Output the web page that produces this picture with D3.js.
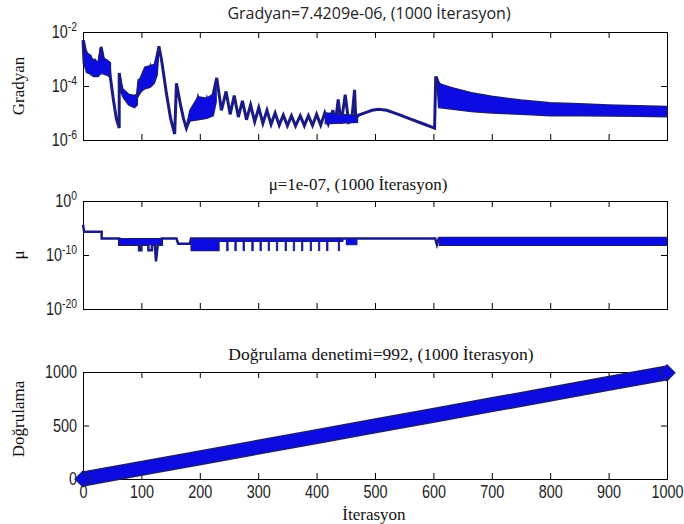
<!DOCTYPE html>
<html>
<head>
<meta charset="utf-8">
<script src="https://cdn.jsdelivr.net/npm/d3@7"></script>
<style>
body { margin: 0; background: #fff; }
svg { display: block; }
.tick text { font-family: "Liberation Sans", Arial, sans-serif; font-size: 18px; fill: #222; }
.tick line { stroke: #000; }
.serif { font-family: "Liberation Serif", "Times New Roman", serif; font-size: 17px; fill: #111; }
.sans { font-family: "Open Sans", "Noto Sans", sans-serif; font-size: 16px; fill: #222; }
</style>
</head>
<body>
<svg id="chart" width="684" height="524"></svg>
<script>
// x ticks shared by all three panels
var xTicks = [0, 100, 200, 300, 400, 500, 600, 700, 800, 900, 1000];

// gradient trace, [iteration, log10(gradient)]
var gradTrace = [
  [0, -2.3], [2, -3.2], [5, -2.7], [8, -3.5], [12, -2.85], [16, -3.6], [20, -3.0], [25, -3.65], [28, -3.1],
  [31, -2.55], [35, -3.0], [40, -3.6], [44, -3.1], [47, -3.7], [52, -4.5], [57, -5.2], [62, -5.56],
  [62, -3.52], [66, -4.2], [72, -4.45], [80, -4.65], [88, -4.7], [93, -4.35], [96, -3.75], [100, -4.1],
  [104, -3.45], [110, -3.9], [116, -3.3], [122, -3.6], [127, -3.0], [130, -2.53],
  [135, -3.1], [143, -4.3], [150, -5.2], [157, -5.78], [160, -3.9], [167, -4.7], [172, -5.2], [177, -5.56],
  [183, -5.2], [190, -5.1], [197, -4.45], [205, -5.0], [212, -4.5], [218, -5.0], [223, -4.3], [229, -3.7],
  [237, -4.9], [245, -4.2], [252, -5.05], [259, -4.35], [266, -5.15], [273, -4.55], [280, -5.25], [287, -4.7],
  [294, -5.32], [301, -4.8], [308, -5.38], [315, -4.9], [322, -5.42], [329, -5.0], [336, -5.45], [343, -5.08],
  [350, -5.47], [357, -5.1], [364, -5.48], [372, -5.1], [379, -5.47], [386, -5.1], [393, -5.46], [400, -5.05],
  [407, -5.45], [414, -5.0], [420, -5.4], [428, -4.9], [432, -5.4], [437, -4.5], [442, -5.4], [449, -4.32],
  [455, -5.35], [460, -5.3], [465, -4.14], [467, -5.2], [472, -5.08],
  [485, -4.98], [495, -4.9], [506, -4.86], [520, -4.9], [540, -5.05], [560, -5.22], [580, -5.38], [602, -5.56],
  [604, -3.65], [608, -3.85], [620, -4.3], [700, -4.6], [800, -4.85], [900, -4.9], [1000, -4.95]
];

// dense oscillation of the gradient, [iteration, low, high] (log10), null = gap
var gradBand = [
  [2, -3.2, -2.3], [6, -3.5, -2.75], [12, -3.55, -2.85], [18, -3.65, -3.05], [26, -3.65, -3.1], [30, -3.55, -2.6],
  [34, -3.55, -2.95], [42, -3.6, -3.05], [47, -3.7, -3.15], null,
  [63, -4.0, -3.55], [68, -4.4, -4.1], [78, -4.7, -4.3], [88, -4.8, -4.35], [93, -4.7, -4.3], null,
  [94, -4.4, -3.9], [100, -4.2, -3.6], [106, -4.1, -3.3], [115, -4.05, -3.25], [122, -3.9, -3.2], [127, -3.6, -2.75],
  [129, -3.0, -2.6], null,
  [178, -5.5, -5.4], [183, -5.3, -4.9], [197, -5.25, -4.4], [212, -5.2, -4.45], [223, -5.1, -4.3], [228, -4.6, -3.8], null,
  [415, -5.4, -5.0], [470, -5.35, -5.1], null,
  [606, -3.8, -3.65], [609, -4.8, -3.9], [630, -4.85, -4.05], [665, -4.95, -4.25], [700, -5.0, -4.38],
  [750, -5.05, -4.52], [800, -5.1, -4.62], [850, -5.1, -4.66], [900, -5.11, -4.7], [950, -5.12, -4.73],
  [1000, -5.14, -4.76]
];

// mu trace, [iteration, log10(mu)]
var muTrace = [
  [0, -4.4], [2, -5.7], [32, -5.7], [32, -6.95], [62, -6.95], [62, -8.1], [96, -8.1], [96, -9.1], [100, -9.1],
  [100, -8.1], [112, -8.1], [112, -9.1], [118, -9.1], [118, -8.1], [123, -8.1], [125, -11.2], [128, -8.1],
  [135, -8.1], [135, -6.95], [160, -6.95], [163, -7.9], [183, -7.9], [185, -6.95], [603, -6.95], [606, -8.1],
  [609, -6.95], [1000, -6.95]
];

// mu oscillation bands, [iteration, low, high] (log10)
var muBand = [
  [62, -8.1, -6.95], [135, -8.1, -6.95], null,
  [185, -9.2, -6.95], [233, -9.2, -6.95], null,
  [233, -7.5, -6.95], [445, -7.5, -6.95], null,
  [451, -8.1, -6.95], [469, -8.1, -6.95], null,
  [610, -8.2, -6.75], [1000, -8.2, -6.75]
];

// iterations where mu drops briefly to ~1e-9
var muTeeth = [246, 260, 274, 289, 303, 317, 331, 346, 360, 374, 389, 403, 417, 437];

// validation checks
var valIter = [0, 100, 200, 300, 400, 500, 600, 700, 800, 900, 1000];
var valChecks = [0, 99, 198, 298, 397, 496, 595, 694, 794, 893, 992];

var gradTicks = [1e-6, 1e-4, 1e-2];
var muTicks = [1e-20, 1e-10, 1];
var valTicks = [0, 500, 1000];

var left = 83, right = 667;
var squeeze = 0.8;   // narrow the tick font
var svg = d3.select("#chart");

var x = d3.scaleLinear().domain([0, 1000]).range([left, right]);
var yGrad = d3.scaleLog().domain([1e-6, 1e-2]).range([140, 32]);
var yMu = d3.scaleLog().domain([1e-20, 1]).range([309, 201]);
var yVal = d3.scaleLinear().domain([0, 1000]).range([479, 372]);

var blue = "#0c0ce2", navy = "#1a1a84";

function p10(e) { return Math.pow(10, e); }

function powLabels(sel) {
  sel.selectAll(".tick text").each(function (d) {
    var t = d3.select(this).text(null);
    t.append("tspan").text("10");
    t.append("tspan").attr("dy", "-0.55em").style("font-size", "13px")
      .text(Math.round(Math.log10(d)));
  });
}

function frame(y, ticks, isLog, showX) {
  var r = y.range(), top = r[1], bottom = r[0];
  var ya = svg.append("g").attr("transform", "translate(" + left + ",0)")
    .call(d3.axisLeft(y).tickValues(ticks).tickSizeInner(-6).tickSizeOuter(0).tickPadding(6)
      .tickFormat(isLog ? function () { return "x"; } : d3.format("d")));
  if (isLog) powLabels(ya);
  ya.selectAll(".tick text").attr("x", -6 / squeeze).attr("transform", "scale(" + squeeze + ",1)");
  svg.append("g").attr("transform", "translate(" + right + ",0)")
    .call(d3.axisRight(y).tickValues(ticks).tickSizeInner(-6).tickSizeOuter(0).tickFormat(""));
  svg.append("g").attr("transform", "translate(0," + top + ")")
    .call(d3.axisTop(x).tickValues(xTicks).tickSizeInner(-6).tickSizeOuter(0).tickFormat(""));
  var xa = svg.append("g").attr("transform", "translate(0," + bottom + ")")
    .call(d3.axisBottom(x).tickValues(xTicks).tickSizeInner(-6).tickSizeOuter(0).tickPadding(6)
      .tickFormat(showX ? d3.format("d") : ""));
  xa.selectAll(".tick text").attr("transform", "scale(" + squeeze + ",1)");
  svg.selectAll(".domain").remove();
  svg.append("rect").attr("x", left + 0.5).attr("y", top + 0.5)
    .attr("width", right - left).attr("height", bottom - top)
    .attr("fill", "none").attr("stroke", "#000").attr("stroke-width", 1);
}

frame(yGrad, gradTicks, true, false);
frame(yMu, muTicks, true, false);
frame(yVal, valTicks, false, true);

// gradient panel
svg.append("path").datum(gradTrace)
  .attr("d", d3.line().x(function (d) { return x(d[0]); }).y(function (d) { return yGrad(p10(d[1])); }))
  .attr("fill", "none").attr("stroke", navy).attr("stroke-width", 3);
svg.append("path").datum(gradBand)
  .attr("d", d3.area().defined(function (d) { return d; })
    .x(function (d) { return x(d[0]); })
    .y0(function (d) { return yGrad(p10(d[1])); })
    .y1(function (d) { return yGrad(p10(d[2])); }))
  .attr("fill", blue).attr("stroke", navy).attr("stroke-width", 1.4);

// mu panel
svg.append("path").datum(muTrace)
  .attr("d", d3.line().x(function (d) { return x(d[0]); }).y(function (d) { return yMu(p10(d[1])); }))
  .attr("fill", "none").attr("stroke", navy).attr("stroke-width", 2.5);
svg.append("path").datum(muBand)
  .attr("d", d3.area().defined(function (d) { return d; })
    .x(function (d) { return x(d[0]); })
    .y0(function (d) { return yMu(p10(d[1])); })
    .y1(function (d) { return yMu(p10(d[2])); }))
  .attr("fill", blue).attr("stroke", navy).attr("stroke-width", 1.2);
svg.append("g").selectAll("rect").data(muTeeth).enter().append("rect")
  .attr("x", function (d) { return x(d); })
  .attr("y", yMu(p10(-6.95)))
  .attr("width", x(2.5) - x(0))
  .attr("height", yMu(p10(-9.2)) - yMu(p10(-6.95)))
  .attr("fill", blue).attr("stroke", navy).attr("stroke-width", 0.8);

// validation panel
var valData = valIter.map(function (d, i) { return [d, valChecks[i]]; });
var valLine = d3.line().x(function (d) { return x(d[0]); }).y(function (d) { return yVal(d[1]); });
svg.append("path").datum(valData).attr("d", valLine)
  .attr("fill", "none").attr("stroke", navy).attr("stroke-width", 15);
svg.append("path").datum(valData).attr("d", valLine)
  .attr("fill", "none").attr("stroke", blue).attr("stroke-width", 11.5);
svg.append("g").selectAll("path").data([valData[0], valData[valData.length - 1]]).enter().append("path")
  .attr("d", d3.symbol().type(d3.symbolSquare).size(120))
  .attr("transform", function (d) { return "translate(" + x(d[0]) + "," + yVal(d[1]) + ") rotate(45)"; })
  .attr("fill", blue).attr("stroke", navy).attr("stroke-width", 1.5);

// titles and labels
svg.append("text").attr("class", "sans").attr("x", 369).attr("y", 19).attr("text-anchor", "middle")
  .text("Gradyan=7.4209e-06, (1000 İterasyon)");
svg.append("text").attr("class", "serif").attr("x", 358).attr("y", 190).attr("text-anchor", "middle")
  .text("μ=1e-07, (1000 İterasyon)");
svg.append("text").attr("class", "serif").attr("x", 381).attr("y", 360).attr("text-anchor", "middle")
  .style("font-size", "17.5px")
  .text("Doğrulama denetimi=992, (1000 İterasyon)");
svg.append("text").attr("class", "serif").attr("transform", "translate(24,86) rotate(-90)")
  .attr("text-anchor", "middle").text("Gradyan");
svg.append("text").attr("class", "serif").attr("transform", "translate(24,255) rotate(-90)")
  .attr("text-anchor", "middle").text("μ");
svg.append("text").attr("class", "serif").attr("transform", "translate(24,419) rotate(-90)")
  .attr("text-anchor", "middle").text("Doğrulama");
svg.append("text").attr("class", "serif").attr("x", 374).attr("y", 520).attr("text-anchor", "middle")
  .text("İterasyon");
</script>
</body>
</html>
